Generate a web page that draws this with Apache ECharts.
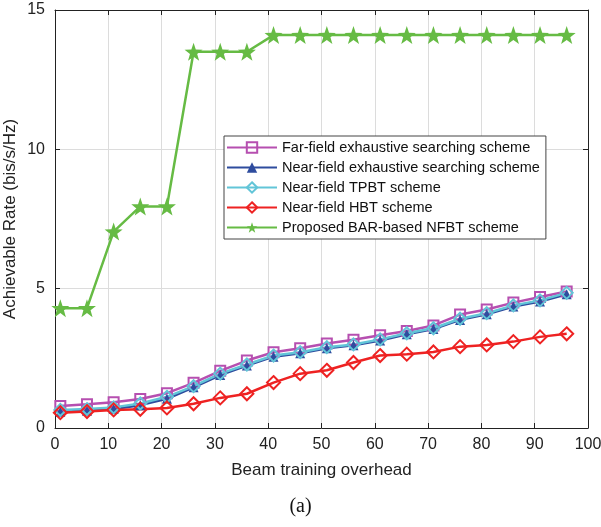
<!DOCTYPE html>
<html><head><meta charset="utf-8">
<script src="https://cdn.jsdelivr.net/npm/echarts@6/dist/echarts.min.js"></script>
<style>html,body{margin:0;padding:0;background:#fff}#c{width:601px;height:527px}</style>
</head><body><div id="c"></div>
<script>
const overhead = [1,6,11,16,21,26,31,36,41,46,51,56,61,66,71,76,81,86,91,96];
const farFieldExhaustive = [0.79,0.85,0.92,1.04,1.25,1.62,2.05,2.42,2.72,2.86,3.03,3.17,3.33,3.48,3.68,4.07,4.25,4.5,4.7,4.9];
const nearFieldExhaustive = [0.58,0.62,0.68,0.82,1.05,1.46,1.9,2.24,2.56,2.68,2.86,2.97,3.14,3.36,3.55,3.88,4.08,4.36,4.54,4.8];
const nearFieldTPBT = [0.65,0.68,0.74,0.88,1.12,1.5,1.95,2.28,2.6,2.72,2.9,3.0,3.18,3.4,3.58,3.92,4.12,4.4,4.58,4.85];
const nearFieldHBT = [0.55,0.59,0.65,0.67,0.72,0.87,1.08,1.23,1.63,1.95,2.07,2.35,2.6,2.65,2.73,2.92,2.98,3.1,3.27,3.38];
const proposedNFBT = [4.3,4.3,7.05,7.95,7.95,13.5,13.5,13.5,14.1,14.1,14.1,14.1,14.1,14.1,14.1,14.1,14.1,14.1,14.1,14.1];
const seriesNames = ['Far-field exhaustive searching scheme','Near-field exhaustive searching scheme','Near-field TPBT scheme','Near-field HBT scheme','Proposed BAR-based NFBT scheme'];
const xTicks = [0,10,20,30,40,50,60,70,80,90,100];
const yTicks = [0,5,10,15];

const chart = echarts.init(document.getElementById('c'));
const font = 'Liberation Sans, Arial, sans-serif';
function mk(name, data, color, symbol, size, filled){
  return {
    name, type:'line', data: overhead.map((x,i)=>[x,data[i]]),
    symbol, symbolSize:size, showSymbol:true,
    lineStyle:{color, width:2.5},
    itemStyle:{color: filled?color:'rgba(255,255,255,0)', borderColor:color, borderWidth: filled?0:2},
    emphasis:{disabled:true}, animation:false
  };
}
chart.setOption({
  animation:false,
  backgroundColor:'#fff',
  title:{text:'(a)', left:'center', top:492, textStyle:{fontFamily:'Liberation Serif, Times New Roman, serif', fontSize:20, fontWeight:'normal', color:'#111'}},
  grid:{left:55, right:13, top:10, bottom:99, containLabel:false, outerBoundsMode:'none'},
  legend:{
    orient:'vertical', left:224, top:136, itemWidth:50, itemHeight:13, itemGap:5,
    padding:[4,6,4,2], backgroundColor:'#fff', borderColor:'#444', borderWidth:1,
    textStyle:{fontFamily:font, fontSize:14.5, color:'#111'},
    data: seriesNames
  },
  xAxis:[
    {type:'value', min:0, max:100, interval:10, position:'bottom',
     name:'Beam training overhead', nameLocation:'middle', nameGap:34, nameMoveOverlap:false,
     nameTextStyle:{fontFamily:font, fontSize:17, color:'#222'},
     axisLine:{show:true,onZero:false,lineStyle:{color:'#222'}},
     axisTick:{show:true,inside:true,length:5,lineStyle:{color:'#222'}},
     axisLabel:{fontFamily:font, fontSize:16, color:'#222', margin:9},
     splitLine:{show:true,lineStyle:{color:'#dcdcdc',width:1}}},
    {type:'value', min:0, max:100, interval:10, position:'top',
     axisLine:{show:true,onZero:false,lineStyle:{color:'#222'}},
     axisTick:{show:true,inside:true,length:5,lineStyle:{color:'#222'}},
     axisLabel:{show:false}, splitLine:{show:false}}
  ],
  yAxis:[
    {type:'value', min:0, max:15, interval:5, position:'left',
     name:'Achievable Rate (bis/s/Hz)', nameLocation:'middle', nameGap:36, nameRotate:90, nameMoveOverlap:false,
     nameTextStyle:{fontFamily:font, fontSize:17, color:'#222'},
     axisLine:{show:true,onZero:false,lineStyle:{color:'#222'}},
     axisTick:{show:true,inside:true,length:5,lineStyle:{color:'#222'}},
     axisLabel:{fontFamily:font, fontSize:16, color:'#222', margin:10},
     splitLine:{show:true,lineStyle:{color:'#dcdcdc',width:1}}},
    {type:'value', min:0, max:15, interval:5, position:'right',
     axisLine:{show:true,onZero:false,lineStyle:{color:'#222'}},
     axisTick:{show:true,inside:true,length:5,lineStyle:{color:'#222'}},
     axisLabel:{show:false}, splitLine:{show:false}}
  ],
  series:[
    mk(seriesNames[0], farFieldExhaustive, '#B64FB0', 'rect', 10, false),
    mk(seriesNames[1], nearFieldExhaustive, '#2E4C9E', 'triangle', 10, true),
    mk(seriesNames[2], nearFieldTPBT, '#62C5D8', 'diamond', 12, false),
    mk(seriesNames[3], nearFieldHBT, '#EE2222', 'diamond', 13, false),
    mk(seriesNames[4], proposedNFBT, '#66BB44', 'path://M0,-10L2.35,-3.24L9.51,-3.09L3.8,1.24L5.88,8.09L0,4L-5.88,8.09L-3.8,1.24L-9.51,-3.09L-2.35,-3.24Z', 18, true)
  ]
});
</script></body></html>
